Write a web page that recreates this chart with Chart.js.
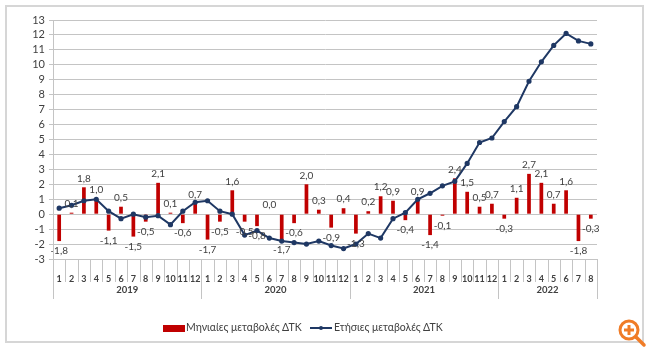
<!DOCTYPE html>
<html>
<head>
<meta charset="utf-8">
<script src="https://cdn.jsdelivr.net/npm/chart.js@4.4.1/dist/chart.umd.min.js"></script>
<style>
    html, body { margin: 0; padding: 0; background: #fff; }
    #wrap { position: relative; width: 650px; height: 352px; }
    #chart { position: absolute; left: 0; top: 0; }
    .legend-text { position: absolute; top: 321px; font: 10.5px Lato, sans-serif; color: #404040; white-space: nowrap; }
    .swatch-bar { position: absolute; left: 163px; top: 325px; width: 22px; height: 7px; background: #c00000; }
    .swatch-line { position: absolute; left: 310px; top: 327px; width: 22px; height: 2px; background: #1f3864; }
    .swatch-dot { position: absolute; left: 319px; top: 326px; width: 4px; height: 4px; background: #1f3864; border-radius: 50%; }
    #zoomIcon { position: absolute; left: 617px; top: 318px; }
</style>
</head>
<body>
<div id="wrap">
    <canvas id="chart" width="650" height="352"></canvas>
    <div class="swatch-bar"></div>
    <div class="legend-text" style="left: 186px;">Μηνιαίες μεταβολές ΔΤΚ</div>
    <div class="swatch-line"></div>
    <div class="swatch-dot"></div>
    <div class="legend-text" style="left: 334px;">Ετήσιες μεταβολές ΔΤΚ</div>
    <svg id="zoomIcon" width="30" height="30" viewBox="0 0 30 30">
        <circle cx="12" cy="12" r="9" fill="none" stroke="#f07c27" stroke-width="3"/>
        <line x1="12" y1="7" x2="12" y2="17" stroke="#f07c27" stroke-width="3"/>
        <line x1="7" y1="12" x2="17" y2="12" stroke="#f07c27" stroke-width="3"/>
        <line x1="19" y1="19" x2="27" y2="27" stroke="#f07c27" stroke-width="3.5" stroke-linecap="round"/>
    </svg>
</div>
<script>
// Monthly categories, 2019-01 .. 2022-08
const years = ['2019', '2020', '2021', '2022'];
const monthsInYear = [12, 12, 12, 8];
const monthTicks = [
    '1','2','3','4','5','6','7','8','9','10','11','12',
    '1','2','3','4','5','6','7','8','9','10','11','12',
    '1','2','3','4','5','6','7','8','9','10','11','12',
    '1','2','3','4','5','6','7','8'
];

// Μηνιαίες μεταβολές ΔΤΚ (%)
const monthlyChange = [
    -1.8, 0.1, 1.8, 1.0, -1.1, 0.5, -1.5, -0.5, 2.1, 0.1, -0.6, 0.7,
    -1.7, -0.5, 1.6, -0.5, -0.8, 0.0, -1.7, -0.6, 2.0, 0.3, -0.9, 0.4,
    -1.3, 0.2, 1.2, 0.9, -0.4, 0.9, -1.4, -0.1, 2.4, 1.5, 0.5, 0.7,
    -0.3, 1.1, 2.7, 2.1, 0.7, 1.6, -1.8, -0.3
];

// Ετήσιες μεταβολές ΔΤΚ (%)
const annualChange = [
    0.4, 0.6, 0.9, 1.0, 0.2, -0.3, 0.0, -0.2, -0.1, -0.7, 0.2, 0.8,
    0.9, 0.2, 0.0, -1.4, -1.1, -1.6, -1.8, -1.9, -2.0, -1.8, -2.1, -2.3,
    -2.0, -1.3, -1.6, -0.3, 0.1, 1.0, 1.4, 1.9, 2.2, 3.4, 4.8, 5.1,
    6.2, 7.2, 8.9, 10.2, 11.3, 12.1, 11.6, 11.4
];

const yTicks = { min: -3, max: 13, step: 1 };

const cBar = '#c00000';
const cLine = '#1f3864';
const cGrid = '#c4c4c4';
const cText = '#404040';

const fmt = v => v.toFixed(1).replace('.', ',');

// frame round the whole picture
const framePlugin = {
    id: 'frame',
    beforeDraw(chart) {
        const ctx = chart.ctx;
        ctx.save();
        ctx.fillStyle = '#fff';
        ctx.fillRect(0, 0, chart.width, chart.height);
        ctx.strokeStyle = '#d6d6d6';
        ctx.lineWidth = 2;
        ctx.strokeRect(6, 6, 637, 336);
        ctx.restore();
    }
};

// multi-level category axis: month separators + year row
const yearAxisPlugin = {
    id: 'yearAxis',
    afterDraw(chart) {
        const ctx = chart.ctx;
        const area = chart.chartArea;
        const step = (area.right - area.left) / monthTicks.length;
        ctx.save();
        ctx.strokeStyle = cGrid;
        ctx.lineWidth = 1;
        for (let i = 1; i < monthTicks.length; i++) {
            const px = Math.round(area.left + i * step) + 0.5;
            ctx.beginPath();
            ctx.moveTo(px, area.bottom);
            ctx.lineTo(px, area.bottom + 23);
            ctx.stroke();
        }
        let start = 0;
        const bounds = [0];
        monthsInYear.forEach(n => { start += n; bounds.push(start); });
        bounds.forEach(b => {
            const px = Math.round(area.left + b * step) + 0.5;
            ctx.beginPath();
            ctx.moveTo(px, b === 0 ? area.top : area.bottom);
            ctx.lineTo(px, area.bottom + 40);
            ctx.stroke();
        });
        ctx.fillStyle = cText;
        ctx.font = 'bold 9.5px Lato, sans-serif';
        ctx.textAlign = 'center';
        ctx.textBaseline = 'middle';
        years.forEach((yr, i) => {
            const mid = area.left + (bounds[i] + bounds[i + 1]) / 2 * step;
            ctx.fillText(yr, mid, area.bottom + 31);
        });
        ctx.restore();
    }
};

// value labels on the bars
const barLabelPlugin = {
    id: 'barLabels',
    afterDatasetsDraw(chart) {
        const ctx = chart.ctx;
        const meta = chart.getDatasetMeta(0);
        ctx.save();
        ctx.fillStyle = cText;
        ctx.font = '10px Lato, sans-serif';
        ctx.textAlign = 'center';
        ctx.textBaseline = 'middle';
        meta.data.forEach((bar, i) => {
            const v = monthlyChange[i];
            const y = v >= 0 ? bar.y - 9 : bar.y + 10;
            ctx.fillText(fmt(v), bar.x, y);
        });
        ctx.restore();
    }
};

new Chart(document.getElementById('chart'), {
    data: {
        labels: monthTicks,
        datasets: [
            {
                type: 'bar', label: 'Μηνιαίες μεταβολές ΔΤΚ', data: monthlyChange,
                backgroundColor: cBar, barPercentage: 0.3, categoryPercentage: 1, order: 2
            },
            {
                type: 'line', label: 'Ετήσιες μεταβολές ΔΤΚ', data: annualChange,
                borderColor: cLine, backgroundColor: cLine, borderWidth: 2,
                pointRadius: 1.6, pointHoverRadius: 1.6, tension: 0, order: 1
            }
        ]
    },
    options: {
        responsive: false, animation: false,
        layout: { padding: { top: 20, right: 53, bottom: 55, left: 0 } },
        plugins: { legend: { display: false }, tooltip: { enabled: false } },
        scales: {
            x: {
                grid: { display: false },
                border: { display: false },
                ticks: { color: cText, font: { family: 'Lato', size: 9, weight: 'bold' }, maxRotation: 0, autoSkip: false, padding: 7 },
                afterFit(scale) { scale.height = 38; }
            },
            y: {
                min: yTicks.min, max: yTicks.max,
                grid: { color: cGrid, lineWidth: 1, tickLength: 4 },
                border: { display: true, color: cGrid },
                ticks: { stepSize: yTicks.step, autoSkip: false, color: cText, font: { family: 'Lato', size: 11 }, padding: 4 },
                afterFit(scale) { scale.width = 53; }
            }
        }
    },
    plugins: [framePlugin, yearAxisPlugin, barLabelPlugin]
});
</script>
</body>
</html>
